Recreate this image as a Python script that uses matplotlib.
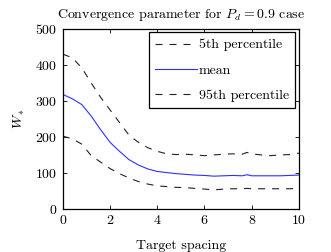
import matplotlib
matplotlib.use("Agg")
import matplotlib.pyplot as plt

plt.rcParams["font.family"] = "serif"
plt.rcParams["font.serif"] = ["cmr10", "DejaVu Serif"]
plt.rcParams["mathtext.fontset"] = "cm"
plt.rcParams["axes.formatter.use_mathtext"] = True
plt.rcParams["font.size"] = 10

# target spacing samples
spacing = [0, 0.4, 0.8, 1.2, 1.6, 2.0, 2.4, 2.8, 3.2, 3.6, 4.0, 4.4, 4.8, 5.2,
           5.6, 6.0, 6.4, 6.8, 7.2, 7.6, 7.8, 8.0, 8.4, 8.8, 9.2, 9.6, 10.0]
p5 = [430, 420, 392, 350, 310, 275, 240, 205, 185, 170, 160, 153, 151, 152,
      150, 148, 150, 152, 153, 152, 157, 153, 150, 148, 150, 151, 155]
mean = [318, 306, 290, 258, 220, 185, 160, 137, 122, 111, 104, 101, 98, 96,
        94, 93, 91, 92, 93, 92, 95, 92, 92, 92, 92, 93, 94]
p95 = [202, 195, 180, 148, 130, 112, 98, 86, 76, 69, 64, 62, 60, 59,
       57, 55, 53, 55, 56, 56, 57, 56, 56, 56, 56, 56, 57]

fig = plt.figure(figsize=(3.31, 2.52), dpi=100)
ax = fig.add_axes([0.190, 0.171, 0.713, 0.714])

dash = (0, (6.3, 6.3))
ax.plot(spacing, p5, color="#222222", lw=0.8, linestyle=dash, label="5th percentile")
ax.plot(spacing, mean, color="#3030ff", lw=0.8, label="mean")
ax.plot(spacing, p95, color="#222222", lw=0.8, linestyle=dash, label="95th percentile")

ax.set_xlim(0, 10)
ax.set_ylim(0, 500)
ax.set_xticks(range(0, 11, 2))
ax.set_yticks(range(0, 501, 100))
ax.tick_params(direction="in", top=True, right=True, length=3, width=0.6, pad=4)
for s in ax.spines.values():
    s.set_linewidth(0.9)

ax.set_title("Convergence parameter for $P_d = 0.9$ case", fontsize=10, pad=8)
ax.set_xlabel("Target spacing", labelpad=9)
ax.set_ylabel("$W_*$", labelpad=6)

leg = ax.legend(loc="upper right", fancybox=False, edgecolor="black",
                framealpha=1, handlelength=3.0, labelspacing=0.9,
                borderaxespad=0.25, handletextpad=0.15, borderpad=0.45)
leg.get_frame().set_linewidth(0.9)

fig.savefig("out.png", dpi=100)
